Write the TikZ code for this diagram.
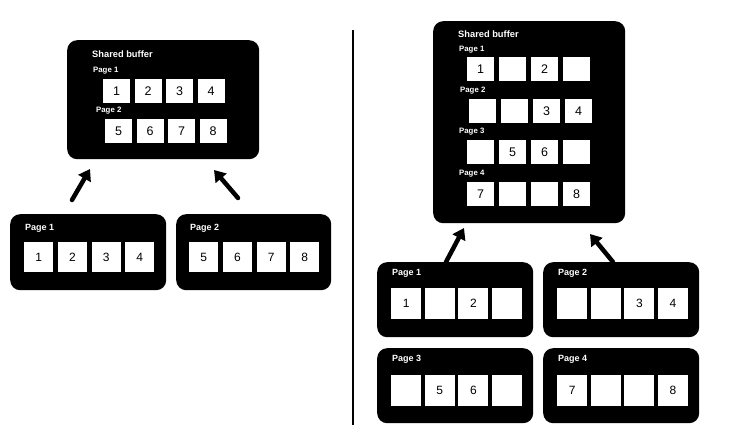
\documentclass[tikz,border=0pt]{standalone}
\usepackage{fontspec}
\setmainfont{Liberation Sans}
\usetikzlibrary{arrows.meta}
\begin{document}
\begin{tikzpicture}[x=1pt,y=-1pt,
  panel/.style={fill=black, rounded corners=10pt, anchor=north west, inner sep=0},
  cellA/.style={fill=white, minimum width=27pt, minimum height=24pt, inner sep=0, anchor=north west, font=\fontsize{12.5}{13}\selectfont},
  cellB/.style={fill=white, minimum width=29pt, minimum height=30pt, inner sep=0, anchor=north west, font=\fontsize{12}{13}\selectfont},
  lbl/.style={text=white, font=\bfseries\fontsize{7.8}{8}\selectfont, anchor=west, inner sep=0},
  lblB/.style={lbl, font=\bfseries\fontsize{9}{10}\selectfont},
  ttl/.style={text=white, font=\bfseries\fontsize{9.3}{10}\selectfont, anchor=west, inner sep=0},
  arr/.style={line width=4.5pt, line cap=round, -{Triangle[length=11pt,width=14pt]}}]
\useasboundingbox[fill=white] (0,0) rectangle (739,441);

% ---------- left side ----------
\node[panel, minimum width=192pt, minimum height=119pt] (LS) at (67,40) {};
\node[ttl] (LSt) at (92,54) {Shared buffer};
\node[lbl] (LSp1) at (93,71) {Page 1};
\node[lbl] (LSp2) at (96,111) {Page 2};
\foreach \t [count=\i from 0] in {1,2,3,4}
  \node[cellA] (la\i) at (103+31.5*\i,79) {\t};
\foreach \t [count=\i from 0] in {5,6,7,8}
  \node[cellA] (lb\i) at (105+31.5*\i,119) {\t};

\node[panel, minimum width=156pt, minimum height=76pt] (LP1) at (10,214) {};
\node[lblB] (LP1t) at (25,228) {Page 1};
\foreach \t [count=\i from 0] in {1,2,3,4}
  \node[cellB] (lc\i) at (24+33.7*\i,242) {\t};
\node[panel, minimum width=155pt, minimum height=76pt] (LP2) at (176,214) {};
\node[lblB] (LP2t) at (190,228) {Page 2};
\foreach \t [count=\i from 0] in {5,6,7,8}
  \node[cellB] (ld\i) at (189+33.7*\i,242) {\t};

\coordinate (a1s) at (72,200); \coordinate (a1e) at (90,169);
\coordinate (a2s) at (238,198); \coordinate (a2e) at (214,170);
\draw[arr] (a1s) -- (a1e);
\draw[arr] (a2s) -- (a2e);

% divider
\coordinate (dv1) at (353,30); \coordinate (dv2) at (353,425);
\draw[line width=2.5pt] (dv1) -- (dv2);

% ---------- right side ----------
\node[panel, minimum width=192pt, minimum height=202pt] (RS) at (433,21) {};
\node[ttl] (RSt) at (458,34) {Shared buffer};
\node[lbl] (RSp1) at (459,50) {Page 1};
\node[lbl] (RSp2) at (460,91) {Page 2};
\node[lbl] (RSp3) at (459,132) {Page 3};
\node[lbl] (RSp4) at (459,174) {Page 4};
\foreach \t [count=\i from 0] in {1,{},2,{}}
  \node[cellA] (ra\i) at (467+32*\i,57) {\t};
\foreach \t [count=\i from 0] in {{},{},3,4}
  \node[cellA] (rb\i) at (469+32*\i,99) {\t};
\foreach \t [count=\i from 0] in {{},5,6,{}}
  \node[cellA] (rc\i) at (467+32*\i,140) {\t};
\foreach \t [count=\i from 0] in {7,{},{},8}
  \node[cellA] (rd\i) at (467+32*\i,182) {\t};

\node[panel, minimum width=156pt, minimum height=75pt] (RP1) at (377,262) {};
\node[lblB] (RP1t) at (392,273) {Page 1};
\foreach \t [count=\i from 0] in {1,{},2,{}}
  \node[cellB, minimum width=30pt, minimum height=31pt] (re\i) at (391+33.6*\i,288) {\t};
\node[panel, minimum width=156pt, minimum height=75pt] (RP2) at (543,262) {};
\node[lblB] (RP2t) at (558,273) {Page 2};
\foreach \t [count=\i from 0] in {{},{},3,4}
  \node[cellB, minimum width=30pt, minimum height=31pt] (rf\i) at (557+33.6*\i,288) {\t};
\node[panel, minimum width=156pt, minimum height=75pt] (RP3) at (377,348) {};
\node[lblB] (RP3t) at (392,359) {Page 3};
\foreach \t [count=\i from 0] in {{},5,6,{}}
  \node[cellB, minimum width=30pt, minimum height=31pt] (rg\i) at (391+33.6*\i,375) {\t};
\node[panel, minimum width=156pt, minimum height=75pt] (RP4) at (543,348) {};
\node[lblB] (RP4t) at (558,359) {Page 4};
\foreach \t [count=\i from 0] in {7,{},{},8}
  \node[cellB, minimum width=30pt, minimum height=31pt] (rh\i) at (557+33.6*\i,375) {\t};

\coordinate (a3s) at (446,262); \coordinate (a3e) at (464,228);
\coordinate (a4s) at (613,262); \coordinate (a4e) at (590,234);
\draw[arr] (a3s) -- (a3e);
\draw[arr] (a4s) -- (a4e);
\end{tikzpicture}
\end{document}
